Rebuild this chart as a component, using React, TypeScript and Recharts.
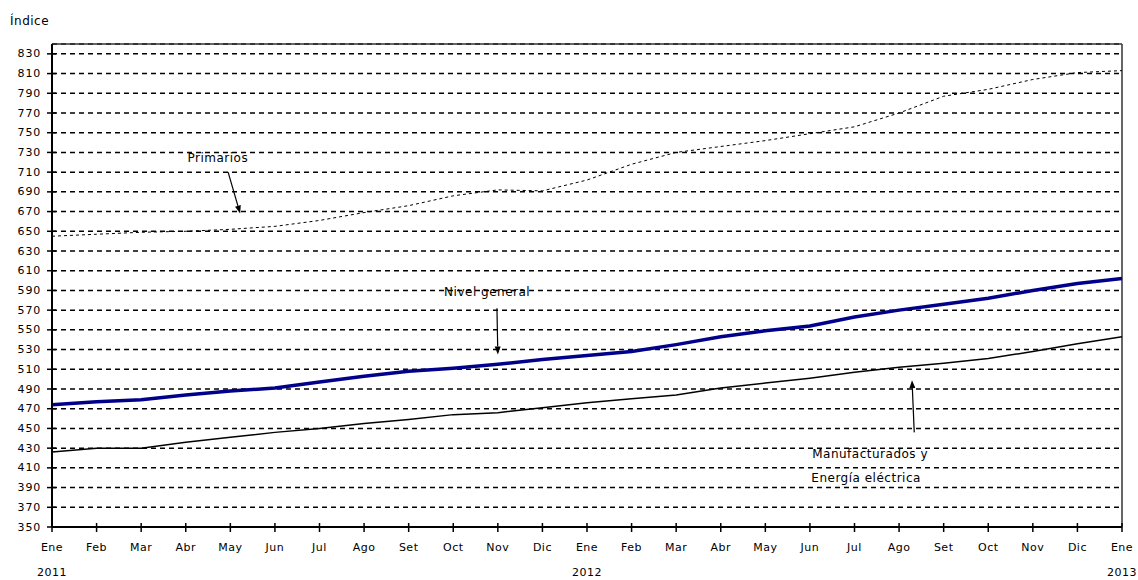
import React from "react";
import {
  LineChart,
  Line,
  XAxis,
  YAxis,
  CartesianGrid,
  ReferenceLine,
  ReferenceDot,
} from "recharts";

// month labels on the x axis (Ene 2011 .. Ene 2013)
const months = [
  "Ene", "Feb", "Mar", "Abr", "May", "Jun", "Jul", "Ago", "Set", "Oct", "Nov", "Dic",
  "Ene", "Feb", "Mar", "Abr", "May", "Jun", "Jul", "Ago", "Set", "Oct", "Nov", "Dic",
  "Ene",
];
const years: Record<number, string> = { 0: "2011", 12: "2012", 24: "2013" };

const primarios = [
  645, 647, 649, 650, 652, 655, 661, 669, 676, 686, 692, 691,
  702, 718, 730, 736, 742, 749, 756, 770, 787, 794, 804, 811,
  813,
];
const nivelGeneral = [
  474, 477, 479, 484, 488, 491, 497, 503, 508, 511, 515, 520,
  524, 528, 535, 543, 549, 554, 563, 570, 576, 582, 590, 597,
  602,
];
const manufacturados = [
  426, 430, 430, 436, 441, 446, 450, 455, 459, 464, 466, 471,
  476, 480, 484, 491, 496, 501, 507, 512, 516, 521, 528, 536,
  543,
];

const yTicks = [
  350, 370, 390, 410, 430, 450, 470, 490, 510, 530, 550, 570,
  590, 610, 630, 650, 670, 690, 710, 730, 750, 770, 790, 810, 830,
];
const xTicks = months.map((_, i) => i);

const data = months.map((m, i) => ({
  idx: i,
  month: m,
  primarios: primarios[i],
  nivel: nivelGeneral[i],
  manuf: manufacturados[i],
}));

const FONT = "'DejaVu Sans', Verdana, sans-serif";

const XTick = (props: any) => {
  const { x, y, payload } = props;
  const i = payload.value as number;
  return (
    <g>
      <line x1={x} x2={x} y1={y - 4} y2={y + 5} stroke="#000" strokeWidth={1.5} />
      <text x={x} y={y + 20} textAnchor="middle" dominantBaseline="central"
        fontFamily={FONT} fontSize={11} letterSpacing={0.5} fill="#000">
        {months[i]}
      </text>
      {years[i] && (
        <text x={x} y={y + 45} textAnchor="middle" dominantBaseline="central"
          fontFamily={FONT} fontSize={11} letterSpacing={0.5} fill="#000">
          {years[i]}
        </text>
      )}
    </g>
  );
};

const YTick = (props: any) => {
  const { x, y, payload } = props;
  return (
    <g>
      <line x1={x - 5} x2={x + 4} y1={y} y2={y} stroke="#000" strokeWidth={1.5} />
      <text x={x - 11} y={y} textAnchor="end" dominantBaseline="central"
        fontFamily={FONT} fontSize={11} letterSpacing={0.8} fill="#000">
        {payload.value}
      </text>
    </g>
  );
};

// arrow drawn from (x1,y1) to the tip at (x2,y2)
const Arrow = (p: any) => {
  const { x1, y1, x2, y2 } = p;
  const a = Math.atan2(y2 - y1, x2 - x1);
  const len = 8;
  const w = 3;
  const bx = x2 - len * Math.cos(a);
  const by = y2 - len * Math.sin(a);
  const px = -Math.sin(a) * w;
  const py = Math.cos(a) * w;
  return (
    <g>
      <line x1={x1} y1={y1} x2={bx} y2={by} stroke="#000" strokeWidth={1.2} />
      <polygon points={`${x2},${y2} ${bx + px},${by + py} ${bx - px},${by - py}`} fill="#000" />
    </g>
  );
};

const noteText = (label: string) => (p: any) => (
  <text x={p.cx} y={p.cy} textAnchor="middle" dominantBaseline="central"
    fontFamily={FONT} fontSize={12} letterSpacing={0.5} fill="#000">
    {label}
  </text>
);

export default function App() {
  return (
    <div style={{ position: "absolute", left: 0, top: 0, width: 1138, height: 580, background: "#fff" }}>
      <div style={{ position: "absolute", left: 10, top: 14, fontFamily: FONT, fontSize: 12, letterSpacing: 0.5 }}>
        Índice
      </div>
      <LineChart width={1138} height={580} data={data}
        margin={{ top: 44, right: 16, bottom: 0, left: 0 }}>
        <CartesianGrid vertical={false} stroke="#000" strokeWidth={1.5} strokeDasharray="5 4" />
        <XAxis dataKey="idx" type="number" domain={[0, 24]} ticks={xTicks} interval={0}
          height={53} tickSize={0} tickMargin={0} tick={<XTick />}
          axisLine={{ stroke: "#000", strokeWidth: 2 }} />
        <YAxis type="number" domain={[350, 840]} ticks={yTicks} interval={0}
          width={52} tickSize={0} tickMargin={0} tick={<YTick />}
          axisLine={{ stroke: "#000", strokeWidth: 2 }} />
        <ReferenceLine y={840} stroke="#333" strokeWidth={1.5} />
        <ReferenceLine x={24} stroke="#333" strokeWidth={1.5} />

        <Line dataKey="primarios" name="Primarios" type="linear" stroke="#000" strokeWidth={1}
          strokeDasharray="3 3" dot={false} isAnimationActive={false} />
        <Line dataKey="manuf" name="Manufacturados y Energía eléctrica" type="linear" stroke="#000"
          strokeWidth={1.5} dot={false} isAnimationActive={false} />
        <Line dataKey="nivel" name="Nivel general" type="linear" stroke="#00008b" strokeWidth={3.5}
          dot={false} isAnimationActive={false} />

        <ReferenceDot x={3.72} y={724} r={0} shape={noteText("Primarios")} />
        <ReferenceLine segment={[{ x: 3.95, y: 710 }, { x: 4.22, y: 668 }]} shape={<Arrow />} />
        <ReferenceDot x={9.76} y={588} r={0} shape={noteText("Nivel general")} />
        <ReferenceLine segment={[{ x: 9.98, y: 572 }, { x: 10.0, y: 525 }]} shape={<Arrow />} />
        <ReferenceDot x={18.35} y={424} r={0} shape={noteText("Manufacturados y")} />
        <ReferenceDot x={18.26} y={400} r={0} shape={noteText("Energía eléctrica")} />
        <ReferenceLine segment={[{ x: 19.34, y: 446 }, { x: 19.29, y: 499 }]} shape={<Arrow />} />
      </LineChart>
    </div>
  );
}
